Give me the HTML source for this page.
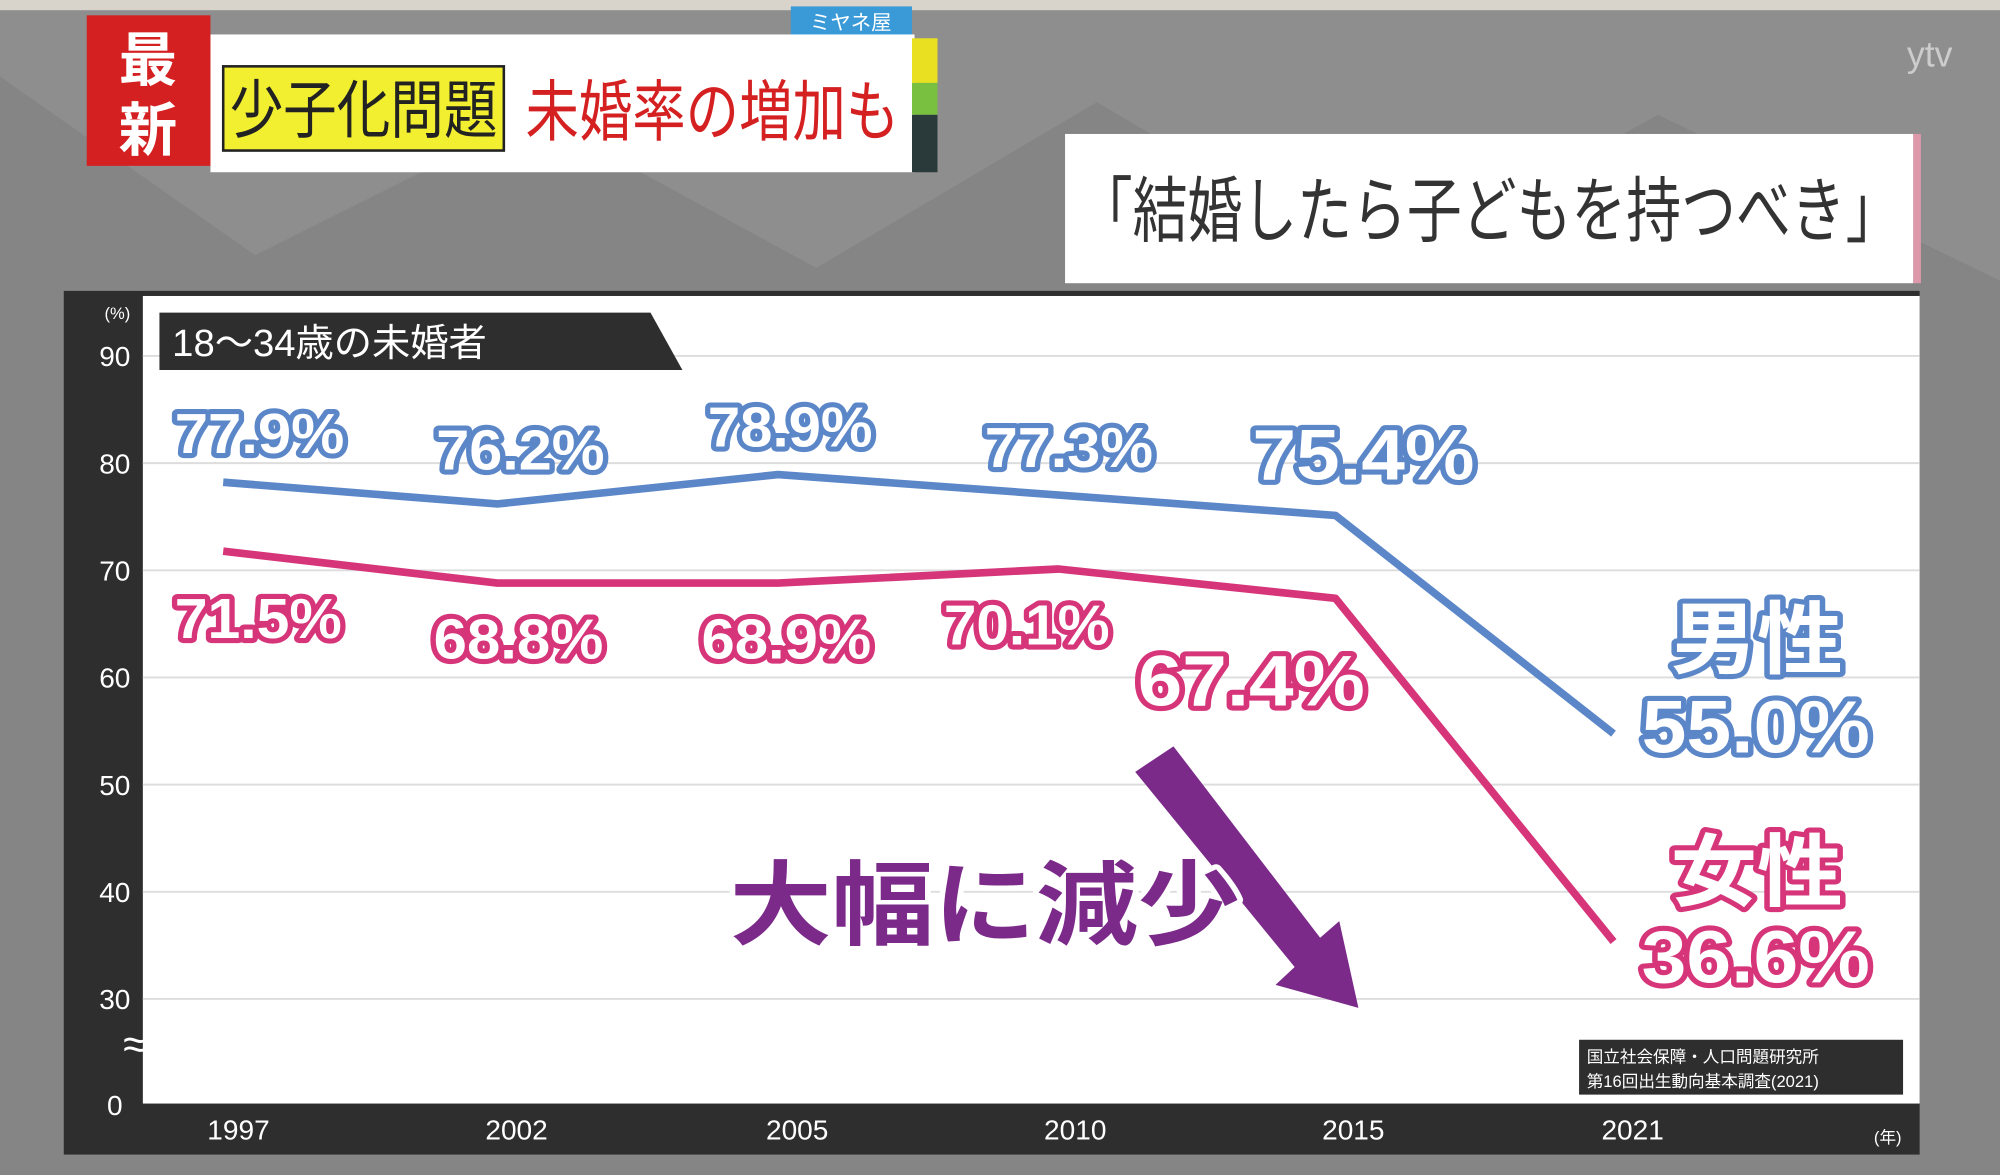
<!DOCTYPE html>
<html><head><meta charset="utf-8"><style>
html,body{margin:0;padding:0;background:#8c8c8c;overflow:hidden}
svg{display:block}
text{font-family:"Liberation Sans","Noto Sans CJK JP",sans-serif}
</style></head><body>
<svg width="2000" height="1175" viewBox="0 0 1568 921" preserveAspectRatio="none" xmlns="http://www.w3.org/2000/svg">
<rect width="1568" height="921" fill="#8e8e8e"/>
<polygon points="0,60 200,200 420,90 640,210 860,80 1080,210 1300,90 1568,220 1568,921 0,921" fill="#858585"/>
<rect x="0" y="0" width="1568" height="8" fill="#d8d4cc"/>
<rect x="620" y="5" width="95" height="24" fill="#3a9ad8"/>
<text x="667" y="23" font-size="16" fill="#fff" text-anchor="middle">ミヤネ屋</text>
<rect x="165" y="27" width="552" height="108" fill="#fff"/>
<rect x="715" y="30" width="20" height="35" fill="#e8e020"/>
<rect x="715" y="65" width="20" height="25" fill="#7ac040"/>
<rect x="715" y="90" width="20" height="45" fill="#2a3a3a"/>
<rect x="68" y="12" width="97" height="118" fill="#d42020"/>
<text x="116" y="63" font-size="46" font-weight="bold" fill="#fff" text-anchor="middle">最</text>
<text x="116" y="118" font-size="46" font-weight="bold" fill="#fff" text-anchor="middle">新</text>
<rect x="175" y="52" width="220" height="66" fill="#f2ee30" stroke="#222" stroke-width="2"/>
<text x="180" y="104" font-size="50" fill="#222" textLength="210" lengthAdjust="spacingAndGlyphs">少子化問題</text>
<text x="412" y="106" font-size="52" fill="#d42020" textLength="293" lengthAdjust="spacingAndGlyphs">未婚率の増加も</text>
<rect x="835" y="105" width="665" height="117" fill="#fff"/>
<rect x="1500" y="105" width="6" height="117" fill="#d9a"/>
<text x="845" y="185" font-size="56" fill="#333" textLength="645" lengthAdjust="spacingAndGlyphs">「結婚したら子どもを持つべき」</text>
<rect x="50" y="228" width="1455" height="677" fill="#2e2e2e"/>
<rect x="112" y="232" width="1393" height="633" fill="#fff"/>
<g stroke="#ddd" stroke-width="1.5">
<line x1="112" y1="279" x2="1505" y2="279"/><line x1="112" y1="363" x2="1505" y2="363"/>
<line x1="112" y1="447" x2="1505" y2="447"/><line x1="112" y1="531" x2="1505" y2="531"/>
<line x1="112" y1="615" x2="1505" y2="615"/><line x1="112" y1="699" x2="1505" y2="699"/>
<line x1="112" y1="783" x2="1505" y2="783"/>
</g>
<g font-size="22" fill="#fff" text-anchor="middle">
<text x="92" y="250" font-size="13">(%)</text>
<text x="90" y="287">90</text><text x="90" y="371">80</text><text x="90" y="455">70</text>
<text x="90" y="539">60</text><text x="90" y="623">50</text><text x="90" y="707">40</text>
<text x="90" y="791">30</text><text x="106" y="830" font-size="34">≈</text><text x="90" y="874">0</text>
<text x="187" y="893">1997</text><text x="405" y="893">2002</text><text x="625" y="893">2005</text>
<text x="843" y="893">2010</text><text x="1061" y="893">2015</text><text x="1280" y="893">2021</text>
<text x="1480" y="896" font-size="13">(年)</text>
</g>
<polygon points="125,245 510,245 535,290 125,290" fill="#2e2e2e"/>
<text x="135" y="279" font-size="30" fill="#fff">18～34歳の未婚者</text>
<polyline points="175,378 390,395 610,372 830,388 1047,404 1265,575" fill="none" stroke="#5b87c9" stroke-width="6" stroke-linejoin="round"/>
<polyline points="175,432 390,457 610,457 830,446 1047,469 1265,738" fill="none" stroke="#d6357a" stroke-width="6" stroke-linejoin="round"/>
<g font-weight="bold" stroke-width="8" paint-order="stroke" fill="#fff" stroke-linejoin="round" lengthAdjust="spacingAndGlyphs">
<g stroke="#5b87c9">
<text x="137" y="355" font-size="44" textLength="133" lengthAdjust="spacingAndGlyphs">77.9%</text>
<text x="342" y="368" font-size="44" textLength="132" lengthAdjust="spacingAndGlyphs">76.2%</text>
<text x="555" y="350" font-size="44" textLength="129" lengthAdjust="spacingAndGlyphs">78.9%</text>
<text x="772" y="366" font-size="44" textLength="132" lengthAdjust="spacingAndGlyphs">77.3%</text>
<text x="982" y="376" font-size="56" textLength="174" lengthAdjust="spacingAndGlyphs">75.4%</text>
<text x="1310" y="523" font-size="62" textLength="135" lengthAdjust="spacingAndGlyphs">男性</text>
<text x="1287" y="590" font-size="58" textLength="179" lengthAdjust="spacingAndGlyphs">55.0%</text>
</g>
<g stroke="#d6357a">
<text x="137" y="500" font-size="44" textLength="131" lengthAdjust="spacingAndGlyphs">71.5%</text>
<text x="340" y="516" font-size="44" textLength="133" lengthAdjust="spacingAndGlyphs">68.8%</text>
<text x="550" y="516" font-size="44" textLength="133" lengthAdjust="spacingAndGlyphs">68.9%</text>
<text x="740" y="505" font-size="44" textLength="130" lengthAdjust="spacingAndGlyphs">70.1%</text>
<text x="892" y="553" font-size="56" textLength="178" lengthAdjust="spacingAndGlyphs">67.4%</text>
<text x="1310" y="705" font-size="62" textLength="135" lengthAdjust="spacingAndGlyphs">女性</text>
<text x="1287" y="770" font-size="58" textLength="179" lengthAdjust="spacingAndGlyphs">36.6%</text>
</g>
</g>
<polygon points="890,605 920,585 1035,735 1050,722 1065,790 1000,772 1015,758" fill="#7b2a8a"/>
<text x="572" y="735" font-size="72" font-weight="bold" fill="#7b2a8a" stroke="#fff" stroke-width="8" paint-order="stroke" stroke-linejoin="round" textLength="400" lengthAdjust="spacingAndGlyphs">大幅に減少</text>
<rect x="1238" y="815" width="254" height="43" fill="#2e2e2e"/>
<text x="1244" y="833" font-size="13" fill="#fff">国立社会保障・人口問題研究所</text>
<text x="1244" y="852" font-size="13" fill="#fff">第16回出生動向基本調査(2021)</text>
<text x="1495" y="52" font-size="28" fill="#ccc">ytv</text>
</svg>
</body></html>
